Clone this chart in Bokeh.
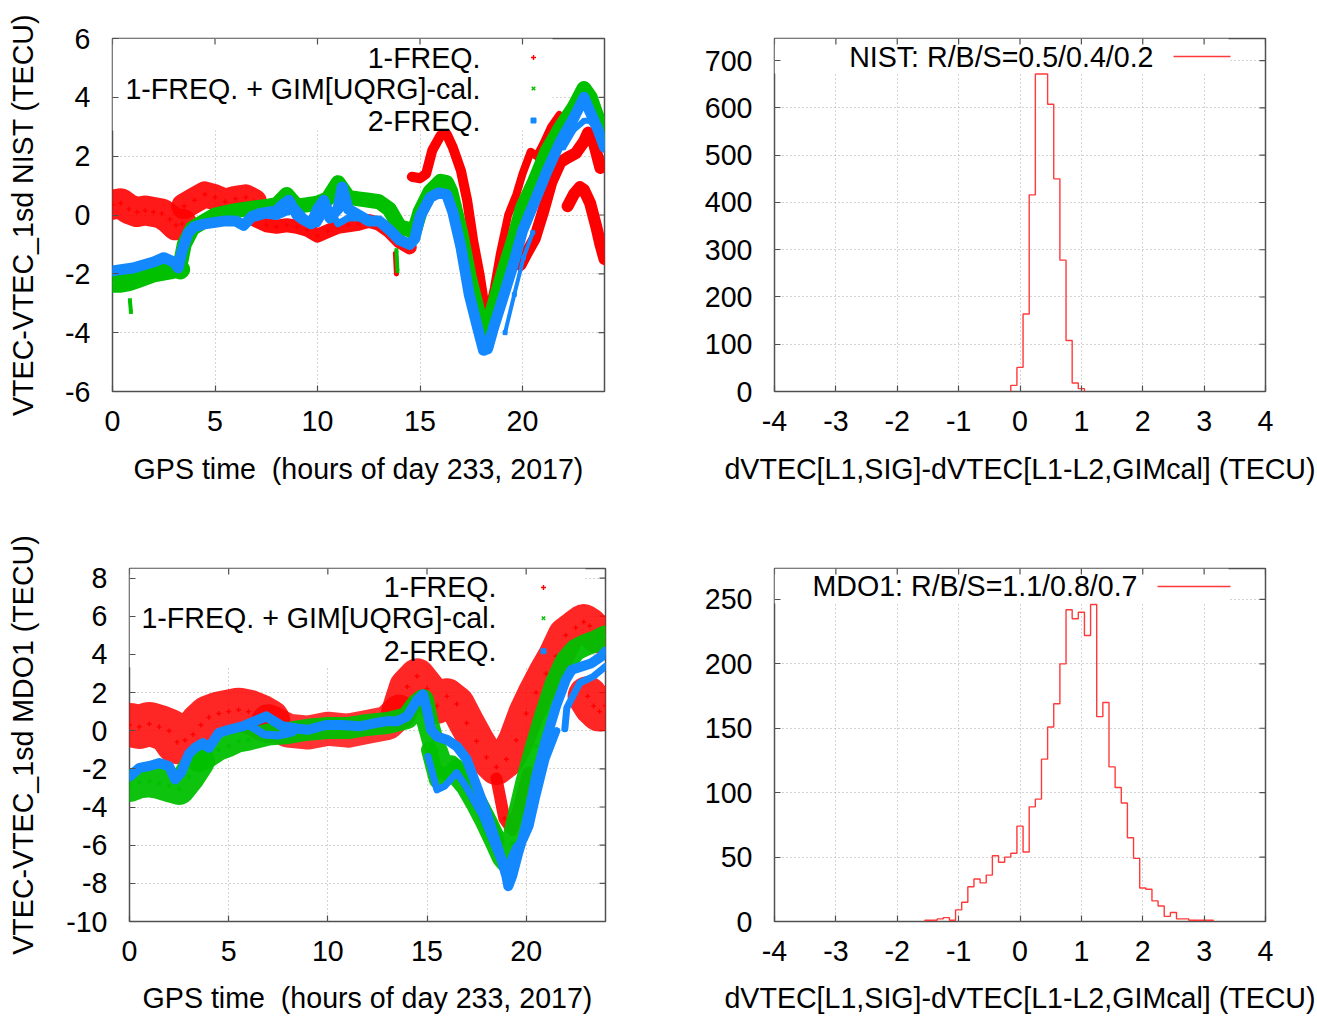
import numpy as np
from bokeh.plotting import figure
from bokeh.models import Range1d, FixedTicker, Label, BoxAnnotation, ColumnDataSource
from bokeh.layouts import column, row
from bokeh.embed import file_html
from bokeh.resources import INLINE

# ======================= DATA =======================
# ---- NIST (top-left): hours of day, VTEC difference (TECU) ----
nist_red_t1 = [0.0, 0.4, 0.8, 1.2, 1.6, 2.0, 2.4, 2.8, 3.1, 3.4]
nist_red_v1 = [0.35, 0.4, 0.2, 0.1, 0.15, 0.1, 0.05, -0.15, -0.35, -0.3]
nist_red_t2 = [3.5, 4.0, 4.5, 5.0, 5.5, 6.0, 6.5, 6.9]
nist_red_v2 = [0.3, 0.5, 0.7, 0.6, 0.45, 0.55, 0.6, 0.45]
nist_red_t3 = [6.9, 7.5, 8.0, 8.5, 9.0, 9.5, 10.0, 10.5, 11.0, 11.5, 12.0, 12.5, 13.0, 13.5, 14.0, 14.5]
nist_red_v3 = [-0.15, -0.35, -0.4, -0.35, -0.4, -0.5, -0.7, -0.55, -0.4, -0.35, -0.3, -0.2, -0.3, -0.55, -0.9, -1.1]
nist_red_t4 = [14.6, 15.0, 15.3, 15.6, 16.0, 16.3, 16.6, 17.0, 17.3, 17.6, 17.9, 18.1, 18.3]
nist_red_v4 = [1.3, 1.25, 1.4, 2.2, 2.7, 2.75, 2.3, 1.5, 0.5, -0.9, -2.0, -2.9, -3.4]
nist_red_t5 = [18.3, 18.6, 18.9, 19.3, 19.7, 20.0, 20.4, 20.7, 21.0, 21.4, 21.8]
nist_red_v5 = [-3.4, -2.5, -1.3, 0.0, 0.7, 1.4, 2.15, 2.0, 2.4, 3.0, 3.4]
nist_red_t6 = [18.4, 18.8, 19.2, 19.6]
nist_red_v6 = [-3.2, -2.2, -1.1, -0.3]
nist_red_t7 = [19.9, 20.2, 20.6, 21.0, 21.4, 21.85, 22.2, 22.6, 23.0, 23.2, 23.5, 23.8]
nist_red_v7 = [-1.7, -1.3, -0.8, 0.1, 1.1, 1.8, 1.95, 2.1, 2.5, 2.8, 2.4, 1.6]
nist_red_t8 = [22.2, 22.5, 22.8, 23.0, 23.3, 23.6, 23.8, 24.0]
nist_red_v8 = [0.3, 0.7, 0.95, 0.85, 0.4, -0.4, -1.0, -1.5]
nist_red_t9 = [13.8, 13.85]
nist_red_v9 = [-1.3, -2.0]

nist_grn_t1 = [0.0, 0.4, 0.8, 1.2, 1.6, 2.0, 2.4, 2.8, 3.1, 3.3]
nist_grn_v1 = [-2.3, -2.3, -2.25, -2.15, -2.05, -1.95, -1.9, -1.85, -1.8, -1.85]
nist_grn_t2 = [3.3, 3.5, 3.9, 4.5, 5.0, 6.0, 7.0, 7.6, 8.0, 8.5, 9.0, 9.5, 10.0, 10.5, 11.0,
               11.5, 12.0, 12.5, 13.0, 13.5, 14.0, 14.5, 14.7, 15.0, 15.5, 16.0, 16.3, 16.5,
               17.0, 17.4, 17.9, 18.2, 18.6, 19.1, 19.6, 20.0, 20.6, 21.2, 21.85, 22.5, 23.0,
               23.3, 23.65, 24.0]
nist_grn_v2 = [-1.7, -1.0, -0.45, -0.2, 0.0, 0.15, 0.25, 0.3, 0.35, 0.7, 0.3, 0.35, 0.4, 0.55, 1.1,
               0.6, 0.55, 0.5, 0.45, 0.2, -0.4, -0.5, -0.6, 0.1, 0.8, 1.15, 1.1, 0.8,
               -0.65, -2.1, -3.5, -4.15, -3.1, -1.9, -0.77, 0.25, 1.15, 2.17, 2.96, 3.64, 4.3,
               4.0, 3.3, 2.6]
nist_grn_t3 = [0.85, 0.9]
nist_grn_v3 = [-2.9, -3.3]
nist_grn_t4 = [13.85, 13.9]
nist_grn_v4 = [-1.2, -1.9]

nist_blu_t1 = [0.0, 0.5, 1.0, 1.5, 2.0, 2.5, 3.0, 3.2, 3.4, 3.7, 4.0, 4.5, 5.0, 5.5, 6.0, 6.4,
               6.8, 7.2, 7.6, 8.0, 8.3, 8.6, 9.0, 9.3, 9.7, 10.0, 10.3, 10.6, 11.0, 11.2, 11.5,
               12.0, 12.5, 13.0, 13.5, 14.0, 14.5, 14.75, 15.0, 15.5, 15.9, 16.3, 16.6, 17.0,
               17.4, 17.8, 18.1, 18.3, 18.6, 19.1, 19.6, 20.0, 20.6, 21.2, 21.85, 22.5, 23.0,
               23.3, 23.65, 24.0]
nist_blu_v1 = [-1.9, -1.85, -1.8, -1.7, -1.6, -1.45, -1.6, -1.8, -1.2, -0.6, -0.4, -0.3, -0.25,
               -0.2, -0.2, -0.35, -0.05, 0.05, 0.1, 0.15, 0.35, 0.5, 0.0, -0.15, -0.3, 0.2, 0.5,
               -0.1, 0.2, 0.95, 0.2, 0.0, -0.2, -0.2, -0.5, -0.85, -1.0, -0.8, -0.05, 0.6, 0.75,
               0.7, 0.1, -1.1, -2.7, -3.8, -4.6, -4.55, -3.8, -2.7, -1.56, -0.54, 0.47, 1.5,
               2.5, 3.3, 4.0, 3.5, 2.96, 2.3]
nist_blu_t2 = [7.0, 7.5, 8.0, 8.5, 9.0, 9.5, 10.0, 10.5, 11.0, 11.5, 12.0]
nist_blu_v2 = [-0.1, 0.0, -0.05, 0.1, 0.2, -0.2, -0.3, 0.3, -0.3, -0.1, -0.1]
nist_blu_t3 = [19.15, 19.6, 20.05, 20.5]
nist_blu_v3 = [-4.0, -2.7, -1.45, -0.6]
nist_blu_t4 = [22.0, 22.5, 23.0, 23.3, 23.65, 24.0]
nist_blu_v4 = [2.3, 2.9, 3.2, 3.2, 2.85, 2.4]

# ---- MDO1 (bottom-left) ----
mdo_red_t1 = [0.0, 0.5, 1.0, 1.5, 2.0, 2.4, 2.8, 3.2, 3.6, 4.0, 4.5, 5.0, 5.5, 6.0, 6.5, 7.0]
mdo_red_v1 = [0.3, 0.2, 0.35, 0.2, 0.0, -0.6, -0.5, -0.2, 0.3, 0.7, 0.9, 1.0, 1.1, 1.0, 0.8, 0.5]
mdo_red_t2 = [7.0, 8.0, 9.0, 10.0, 11.0, 12.0, 13.0, 13.6]
mdo_red_v2 = [0.5, 0.0, -0.1, 0.1, 0.0, 0.2, 0.4, 1.0]
mdo_red_t3 = [13.6, 14.0, 14.5, 15.0, 15.5, 16.0, 16.5, 17.0, 17.5, 18.0, 18.5, 19.0, 19.5,
              20.0, 20.5, 21.0, 21.5, 22.0, 22.5, 22.9, 23.2, 23.6]
mdo_red_v3 = [1.0, 2.3, 2.85, 2.2, 1.3, 1.8, 1.4, 0.4, -0.55, -1.4, -1.9, -1.5, -0.5,
              0.9, 2.0, 3.0, 3.9, 5.0, 5.4, 5.7, 5.5, 5.0]
mdo_red_t4 = [18.5, 18.9, 19.3, 19.7, 20.1]
mdo_red_v4 = [-2.5, -4.6, -5.2, -3.8, -2.2]
mdo_red_t5 = [23.1, 23.4, 23.7, 24.0]
mdo_red_v5 = [1.8, 1.3, 1.0, 1.3]

mdo_grn_t1 = [0.0, 0.5, 1.0, 1.5, 2.0, 2.5, 3.0, 3.5]
mdo_grn_v1 = [-2.9, -2.7, -2.65, -2.75, -2.9, -3.05, -2.4, -1.6]
mdo_grn_t2 = [3.5, 4.0, 4.5, 5.0, 5.5, 6.0, 7.0, 8.0, 9.0, 10.0, 11.0, 12.0, 13.0, 14.0, 14.5,
              14.8, 15.0, 15.3, 15.5, 15.8, 16.2, 16.6, 17.0, 17.5, 18.0, 18.5, 18.8, 19.0,
              19.3, 19.6, 20.0, 20.5, 21.0, 21.5, 22.0, 22.5, 23.0, 23.5, 24.0]
mdo_grn_v2 = [-1.6, -1.35, -1.0, -0.8, -0.56, -0.47, -0.2, -0.12, 0.05, 0.14, 0.14, 0.3, 0.4,
              0.66, 1.36, 1.6, 0.58, -0.56, -1.08, -1.95, -1.87, -2.4, -2.9, -3.8, -4.8, -5.9,
              -6.6, -6.85, -5.9, -4.5, -2.74, -0.82, 0.92, 2.5, 3.63, 4.24, 4.5, 4.68, 4.94]
mdo_grn_t3 = [15.1, 15.5, 15.9, 16.5, 17.0, 17.8, 18.5]
mdo_grn_v3 = [-1.0, -2.6, -2.5, -1.9, -2.6, -4.1, -5.8]

mdo_blu_t1 = [0.0, 0.5, 1.0, 1.5, 2.0, 2.3, 2.6, 3.0, 3.3, 3.7, 4.0, 4.5, 5.0, 5.7, 6.5, 6.9,
              7.7, 8.5, 9.0, 9.9, 10.7, 11.6, 12.4, 13.0, 13.5, 14.0, 14.5, 14.8, 15.0, 15.2,
              15.5, 16.0, 16.5, 17.0, 17.5, 18.0, 18.5, 18.8, 19.0, 19.1, 19.3, 19.6, 19.9,
              20.2, 20.5, 21.0, 21.5, 22.0, 22.3, 22.8, 23.3, 23.8, 24.0]
mdo_blu_v1 = [-2.4, -1.95, -1.85, -1.7, -1.87, -2.55, -2.2, -1.2, -0.9, -0.65, -0.9, -0.12,
              0.05, 0.23, 0.58, 0.75, 0.23, 0.1, 0.05, 0.3, 0.3, 0.23, 0.4, 0.5, 0.5, 0.75,
              1.6, 1.9, 1.1, 0.05, -0.3, -0.47, -0.82, -1.5, -2.9, -4.3, -5.9, -6.9, -7.6,
              -8.15, -7.6, -6.4, -5.35, -3.96, -2.4, -0.47, 1.27, 2.67, 3.2, 3.37, 3.54, 3.9,
              4.15]
mdo_blu_t2 = [6.0, 6.8, 7.5, 8.2]
mdo_blu_v2 = [0.3, -0.2, -0.25, -0.1]
mdo_blu_t3 = [15.05, 15.5, 15.9, 16.5, 16.95, 17.8, 18.5, 18.9, 19.2, 19.5, 19.9, 20.2, 20.5,
              21.0, 21.55]
mdo_blu_v3 = [-1.34, -3.1, -2.9, -2.2, -2.9, -4.5, -6.3, -7.3, -6.75, -6.05, -5.7, -5.0, -3.6,
              -1.5, 0.0]
mdo_blu_t4 = [21.95, 22.05, 22.7, 23.4, 24.0]
mdo_blu_v4 = [0.1, 1.2, 2.5, 2.85, 3.37]

# ---- histograms: bin centres (TECU) and counts ----
nist_bins = [-0.1, 0.0, 0.1, 0.2, 0.3, 0.4, 0.5, 0.6, 0.7, 0.8, 0.9, 1.0]
nist_counts = [13, 51, 164, 416, 672, 672, 608, 450, 278, 108, 18, 6]
mdo_bins = [-1.5, -1.4, -1.3, -1.2, -1.1, -1.0, -0.9, -0.8, -0.7, -0.6, -0.5, -0.4, -0.3,
            -0.2, -0.1, 0.0, 0.1, 0.2, 0.3, 0.4, 0.5, 0.6, 0.7, 0.8, 0.9, 1.0, 1.1, 1.2,
            1.3, 1.4, 1.5, 1.6, 1.7, 1.8, 1.9, 2.0, 2.1, 2.2, 2.3, 2.4, 2.5, 2.6, 2.7,
            2.8, 2.9, 3.0, 3.1]
mdo_counts = [1, 1, 2, 3, 1, 9, 15, 27, 33, 30, 36, 51, 46, 50, 53, 74, 54, 89, 95, 126,
              151, 169, 200, 242, 235, 240, 222, 246, 159, 170, 120, 104, 92, 65, 49, 26,
              25, 16, 12, 4, 7, 2, 2, 1, 1, 1, 1]
bin_width = 0.1

# ---- ticks and labels ----
time_ticks = [0, 5, 10, 15, 20]
nist_yticks = [-6, -4, -2, 0, 2, 4, 6]
mdo_yticks = [-10, -8, -6, -4, -2, 0, 2, 4, 6, 8]
hist_xticks = [-4, -3, -2, -1, 0, 1, 2, 3, 4]
nist_hist_yticks = [0, 100, 200, 300, 400, 500, 600, 700]
mdo_hist_yticks = [0, 50, 100, 150, 200, 250]
series_labels = ["1-FREQ.", "1-FREQ. + GIM[UQRG]-cal.", "2-FREQ."]
time_label = "GPS time \u00a0(hours of day 233, 2017)"
hist_label = "dVTEC[L1,SIG]-dVTEC[L1-L2,GIMcal] (TECU)"
nist_ylabel = "VTEC-VTEC_1sd NIST (TECU)"
mdo_ylabel = "VTEC-VTEC_1sd MDO1 (TECU)"
nist_hist_key = "NIST: R/B/S=0.5/0.4/0.2"
mdo_hist_key = "MDO1: R/B/S=1.1/0.8/0.7"

# ======================= STYLE / LAYOUT =======================
FONT = "Liberation Sans"
FS = "28.6px"
RED = "#ff0000"
GREEN = "#00c000"
BLUE = "#1488ff"
HIST = "#ff3a3a"
FRAME = "#505050"

# frame geometry in page pixels: left, top, width, height
F1 = (112, 38, 492, 353)
F2 = (774, 38, 491, 353)
F3 = (129, 568, 476, 354)
F4 = (774, 568, 491, 354)
COL1_W = 650
ROW_H = 508
GEOM = {}


def make_fig(frame, col_x, row_y, w, h, xr, yr):
    l, t, fw, fh = frame
    p = figure(width=w, height=h,
               min_border_left=l - col_x, min_border_right=w - (l - col_x) - fw,
               min_border_top=t - row_y, min_border_bottom=h - (t - row_y) - fh,
               x_range=Range1d(*xr), y_range=Range1d(*yr),
               output_backend="svg", toolbar_location=None)
    p.outline_line_color = FRAME
    p.outline_line_width = 1.5
    GEOM[id(p)] = (l, t, fw, fh, xr[0], xr[1], yr[0], yr[1])
    return p


def to_data(p, px, py):
    l, t, fw, fh, x0, x1, y0, y1 = GEOM[id(p)]
    return x0 + (px - l) / fw * (x1 - x0), y1 - (py - t) / fh * (y1 - y0)


def dress(p, xticks, yticks, xlabel, ylabel, xstd, xlstd, ylstd):
    for ax, ticks in ((p.xaxis[0], xticks), (p.yaxis[0], yticks)):
        ax.ticker = FixedTicker(ticks=ticks)
        ax.major_label_overrides = {v: str(v) for v in ticks}
        ax.axis_line_color = None
        ax.major_tick_in = 6
        ax.major_tick_out = 0
        ax.major_tick_line_color = FRAME
        ax.major_tick_line_width = 1.2
        ax.minor_tick_line_color = None
        ax.major_label_text_font = FONT
        ax.major_label_text_font_size = FS
        ax.major_label_text_color = "black"
        ax.axis_label_text_font = FONT
        ax.axis_label_text_font_size = FS
        ax.axis_label_text_font_style = "normal"
        ax.axis_label_text_color = "black"
    p.xaxis[0].major_label_standoff = xstd
    p.yaxis[0].major_label_standoff = 22
    p.xaxis[0].axis_label = xlabel
    p.xaxis[0].axis_label_standoff = xlstd
    if ylabel:
        p.yaxis[0].axis_label = ylabel
        p.yaxis[0].axis_label_standoff = ylstd
    p.xgrid[0].ticker = FixedTicker(ticks=xticks)
    p.ygrid[0].ticker = FixedTicker(ticks=yticks)
    p.grid.grid_line_color = "#a8a8a8"
    p.grid.grid_line_dash = "1 3"
    p.grid.grid_line_width = 1
    # mirrored inward ticks on the top and right borders (gnuplot style)
    _, _, _, _, x0, x1, y0, y1 = GEOM[id(p)]
    p.scatter(xticks, [y1] * len(xticks), marker="dash", angle=np.pi / 2, size=12,
              line_color=FRAME, line_width=1.2)
    p.scatter([x1] * len(yticks), yticks, marker="dash", size=12,
              line_color=FRAME, line_width=1.2)


def key_box(p, px_right, py_bottom):
    l, t, fw, fh, x0, x1, y0, y1 = GEOM[id(p)]
    xr, yb = to_data(p, px_right, py_bottom)
    p.add_layout(BoxAnnotation(left=x0, right=xr, bottom=yb, top=y1, fill_color="white",
                               fill_alpha=1, line_color=None, level="underlay"))


def draw_series(p, tracks, color, marker, msize):
    src = ColumnDataSource(dict(xs=[list(t) for t, v, w, a in tracks],
                                ys=[list(v) for t, v, w, a in tracks],
                                w=[w for t, v, w, a in tracks],
                                a=[a for t, v, w, a in tracks]))
    p.multi_line(xs="xs", ys="ys", line_width="w", line_alpha="a", line_color=color,
                 line_cap="round", line_join="round", source=src)
    xs = np.concatenate([np.asarray(t, float) for t, v, w, a in tracks])
    ys = np.concatenate([np.asarray(v, float) for t, v, w, a in tracks])
    if marker == "square":
        p.scatter(xs, ys, marker=marker, size=msize, fill_color=color, line_color=color)
    else:
        p.scatter(xs, ys, marker=marker, size=msize, line_color=color, line_width=1.4)


def key_labels(p, px_right, pys, texts):
    l, t, fw, fh = GEOM[id(p)][:4]
    for py, txt in zip(pys, texts):
        p.add_layout(Label(x=px_right - l, y=t + fh - py, x_units="screen", y_units="screen",
                           text=txt, text_align="right", text_baseline="middle",
                           text_font=FONT, text_font_size=FS, text_color="black"))


def key_marker(p, px, py, marker, color, size):
    x, y = to_data(p, px, py)
    if marker == "square":
        p.scatter([x], [y], marker=marker, size=size, fill_color=color, line_color=color)
    else:
        p.scatter([x], [y], marker=marker, size=size, line_color=color, line_width=1.4)


def key_line(p, px0, px1, py, color):
    xa, y = to_data(p, px0, py)
    xb, _ = to_data(p, px1, py)
    p.line([xa, xb], [y, y], line_color=color, line_width=1.4)


def step_outline(centers, counts, width):
    c = np.asarray(centers, float)
    n = np.asarray(counts, float)
    left = c - width / 2
    right = c + width / 2
    xs = np.concatenate([[left[0]], np.column_stack([left, right]).ravel(), [right[-1]]])
    ys = np.concatenate([[0.0], np.repeat(n, 2), [0.0]])
    return xs, ys


# ======================= PANEL 1: NIST time series =======================
p1 = make_fig(F1, 0, 0, COL1_W, ROW_H, (0, 24), (-6, 6))
dress(p1, time_ticks, nist_yticks, time_label, nist_ylabel, 19, 19, 23)
key_box(p1, 552, 130)
draw_series(p1, [
    (nist_red_t1, nist_red_v1, 30, 0.9), (nist_red_t2, nist_red_v2, 26, 0.9),
    (nist_red_t3, nist_red_v3, 14, 0.95), (nist_red_t4, nist_red_v4, 10, 1.0),
    (nist_red_t5, nist_red_v5, 8, 1.0), (nist_red_t6, nist_red_v6, 6, 1.0),
    (nist_red_t7, nist_red_v7, 12, 1.0), (nist_red_t8, nist_red_v8, 12, 1.0),
    (nist_red_t9, nist_red_v9, 5, 1.0)], RED, "cross", 5)
draw_series(p1, [
    (nist_grn_t1, nist_grn_v1, 20, 1.0), (nist_grn_t2, nist_grn_v2, 15, 1.0),
    (nist_grn_t3, nist_grn_v3, 4, 1.0), (nist_grn_t4, nist_grn_v4, 4, 1.0)], GREEN, "x", 5)
draw_series(p1, [
    (nist_blu_t1, nist_blu_v1, 11, 1.0), (nist_blu_t2, nist_blu_v2, 7, 1.0),
    (nist_blu_t3, nist_blu_v3, 4, 1.0), (nist_blu_t4, nist_blu_v4, 6, 1.0)], BLUE, "square", 4)
key_labels(p1, 480, [57, 88, 120], series_labels)
key_marker(p1, 533, 57, "cross", RED, 5)
key_marker(p1, 533, 88, "x", GREEN, 5)
key_marker(p1, 533, 120, "square", BLUE, 5)

# ======================= PANEL 2: NIST histogram =======================
p2 = make_fig(F2, COL1_W, 0, 665, ROW_H, (-4, 4), (0, 747))
dress(p2, hist_xticks, nist_hist_yticks, hist_label, None, 19, 19, 0)
key_box(p2, 1228, 73)
hx, hy = step_outline(nist_bins, nist_counts, bin_width)
p2.line(hx, hy, line_color=HIST, line_width=1.4)
key_labels(p2, 1153, [56], [nist_hist_key])
key_line(p2, 1173, 1230, 56, HIST)

# ======================= PANEL 3: MDO1 time series =======================
p3 = make_fig(F3, 0, ROW_H, COL1_W, ROW_H, (0, 24), (-10, 8.5))
dress(p3, time_ticks, mdo_yticks, time_label, mdo_ylabel, 19, 18, 24)
key_box(p3, 585, 667)
draw_series(p3, [
    (mdo_red_t1, mdo_red_v1, 44, 0.85), (mdo_red_t2, mdo_red_v2, 34, 0.8),
    (mdo_red_t3, mdo_red_v3, 36, 0.85), (mdo_red_t4, mdo_red_v4, 12, 0.9),
    (mdo_red_t5, mdo_red_v5, 40, 0.85)], RED, "cross", 5)
draw_series(p3, [
    (mdo_grn_t1, mdo_grn_v1, 32, 0.95), (mdo_grn_t2, mdo_grn_v2, 22, 0.95),
    (mdo_grn_t3, mdo_grn_v3, 16, 0.95)], GREEN, "x", 5)
draw_series(p3, [
    (mdo_blu_t1, mdo_blu_v1, 10, 1.0), (mdo_blu_t2, mdo_blu_v2, 8, 1.0),
    (mdo_blu_t3, mdo_blu_v3, 7, 1.0), (mdo_blu_t4, mdo_blu_v4, 7, 1.0)], BLUE, "square", 4)
key_labels(p3, 496, [587, 618, 651], series_labels)
key_marker(p3, 543, 587, "cross", RED, 5)
key_marker(p3, 543, 618, "x", GREEN, 5)
key_marker(p3, 543, 651, "square", BLUE, 5)

# ======================= PANEL 4: MDO1 histogram =======================
p4 = make_fig(F4, COL1_W, ROW_H, 665, ROW_H, (-4, 4), (0, 274))
dress(p4, hist_xticks, mdo_hist_yticks, hist_label, None, 19, 18, 0)
key_box(p4, 1228, 603)
hx, hy = step_outline(mdo_bins, mdo_counts, bin_width)
p4.line(hx, hy, line_color=HIST, line_width=1.4)
key_labels(p4, 1137, [586], [mdo_hist_key])
key_line(p4, 1157, 1230, 586, HIST)

layout = column(row(p1, p2), row(p3, p4))
open("out.html", "w").write(file_html(layout, INLINE))
